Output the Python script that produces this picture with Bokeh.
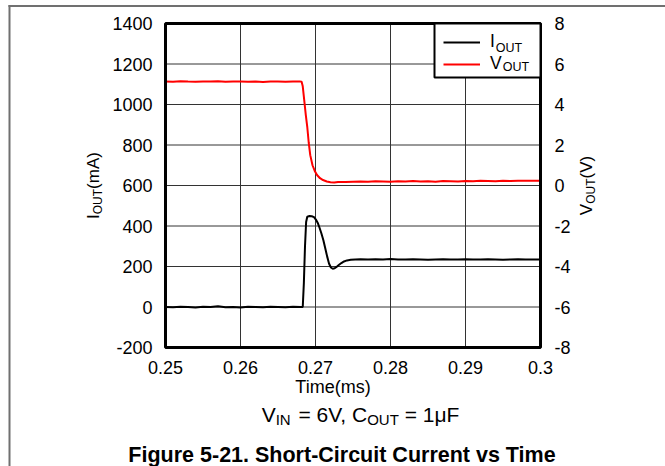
import math
from bokeh.plotting import figure
from bokeh.models import (LinearAxis, Range1d, FixedTicker, Label, BoxAnnotation,
                          Legend, LegendItem)
from bokeh.embed import file_html
from bokeh.resources import INLINE

# ---------------- data ----------------
time_i = [0.2500, 0.2510, 0.2520, 0.2530, 0.2540, 0.2550, 0.2560, 0.2570, 0.2580,
          0.2590, 0.2600, 0.2610, 0.2620, 0.2630, 0.2640, 0.2650, 0.2660, 0.2670,
          0.2680, 0.26830, 0.26845, 0.26860, 0.26875, 0.26890, 0.26920, 0.26950,
          0.26980, 0.27005, 0.27030, 0.27055, 0.27080, 0.27105, 0.27130, 0.27155,
          0.27180, 0.27205, 0.27230, 0.27255, 0.27280, 0.27310, 0.27345, 0.27380,
          0.27420, 0.27470, 0.27530, 0.2760, 0.2770, 0.2780, 0.2790, 0.2800,
          0.2810, 0.2820, 0.2830, 0.2840, 0.2850, 0.2860, 0.2870, 0.2880, 0.2890,
          0.2900, 0.2910, 0.2920, 0.2930, 0.2940, 0.2950, 0.2960, 0.2970, 0.2980,
          0.2990, 0.3000]
iout = [0, -1, 1, 0, -2, 1, 0, 4, -1,
        0, -2, 1, 0, -1, 1, 0, -1, 1,
        0, 0, 120, 300, 420, 446, 449, 448,
        444, 432, 415, 390, 362, 330, 290, 250,
        215, 195, 189, 191, 198, 207, 217, 225,
        230, 233, 235, 236, 234, 236, 235, 237,
        235, 234, 236, 235, 233, 235, 236, 234, 235,
        236, 234, 235, 236, 235, 233, 235, 236, 234,
        235, 235]

time_v = [0.2500, 0.2510, 0.2520, 0.2530, 0.2540, 0.2550, 0.2560, 0.2570, 0.2580,
          0.2590, 0.2600, 0.2610, 0.2620, 0.2630, 0.2640, 0.2650, 0.2660, 0.2670,
          0.2680, 0.26815, 0.26830, 0.26850, 0.26870, 0.26890, 0.26910, 0.26930,
          0.26960, 0.26990, 0.27020, 0.27060, 0.27100, 0.27150, 0.27200, 0.27250,
          0.2730, 0.2740, 0.2750, 0.2760, 0.2770, 0.2780, 0.2790, 0.2800, 0.2810,
          0.2820, 0.2830, 0.2840, 0.2850, 0.2860, 0.2870, 0.2880, 0.2890, 0.2900,
          0.2910, 0.2920, 0.2930, 0.2940, 0.2950, 0.2960, 0.2970, 0.2980, 0.2990,
          0.3000]
vout = [5.14, 5.12, 5.15, 5.13, 5.12, 5.14, 5.13, 5.15, 5.12,
        5.13, 5.14, 5.12, 5.13, 5.11, 5.14, 5.13, 5.12, 5.14,
        5.13, 5.12, 4.90, 4.20, 3.50, 2.90, 2.10, 1.50,
        1.00, 0.72, 0.52, 0.36, 0.27, 0.20, 0.16, 0.15,
        0.17, 0.17, 0.19, 0.20, 0.18, 0.21, 0.20, 0.19, 0.21,
        0.20, 0.22, 0.20, 0.21, 0.19, 0.22, 0.21, 0.20, 0.22,
        0.21, 0.23, 0.22, 0.21, 0.23, 0.22, 0.24, 0.23, 0.24,
        0.24]

x_ticks = [0.25, 0.26, 0.27, 0.28, 0.29, 0.30]
x_tick_labels = ["0.25", "0.26", "0.27", "0.28", "0.29", "0.3"]
i_ticks = [-200, 0, 200, 400, 600, 800, 1000, 1200, 1400]
i_tick_labels = ["-200", "0", "200", "400", "600", "800", "1000", "1200", "1400"]
v_ticks = [-8, -6, -4, -2, 0, 2, 4, 6, 8]
v_tick_labels = ["-8", "-6", "-4", "-2", "0", "2", "4", "6", "8"]

x_title = "Time(ms)"
left_title = [("I", False), ("OUT", True), ("(mA)", False)]
right_title = [("V", False), ("OUT", True), ("(V)", False)]
subtitle = [("V", False), ("IN", True), (" = 6V, C", False), ("OUT", True), (" = 1μF", False)]
caption = "Figure 5-21. Short-Circuit Current vs Time"
legend_names = [("I", "OUT"), ("V", "OUT")]

# ---------------- layout (canvas pixels) ----------------
FONT = "Liberation Sans"
W, H = 665, 466
FL, FR, FT, FB = 165, 540, 23, 347      # plot-area box on the canvas

# The frame covers the whole canvas; ranges are widened so that the
# data box lands on the plot-area pixels, and the axes are pinned to it.
x0, x1 = x_ticks[0], x_ticks[-1]
y0, y1 = i_ticks[0], i_ticks[-1]
v0, v1 = v_ticks[0], v_ticks[-1]
kx = (x1 - x0) / (FR - FL)
ky = (y1 - y0) / (FB - FT)
kv = (v1 - v0) / (FB - FT)

p = figure(width=W, height=H,
           x_range=Range1d(x0 - FL * kx, x1 + (W - FR) * kx),
           y_range=Range1d(y0 - (H - FB) * ky, y1 + FT * ky),
           output_backend="svg", toolbar_location=None,
           min_border_left=0, min_border_right=0, min_border_top=0, min_border_bottom=0)
p.extra_y_ranges = {"v": Range1d(v0 - (H - FB) * kv, v1 + FT * kv)}
p.outline_line_color = None
p.background_fill_color = "white"
p.border_fill_color = "white"
p.xgrid.visible = False
p.ygrid.visible = False

p.xaxis.ticker = FixedTicker(ticks=x_ticks)
p.xaxis.major_label_overrides = {t: s for t, s in zip(x_ticks, x_tick_labels)}
p.xaxis.fixed_location = y0
p.yaxis.ticker = FixedTicker(ticks=i_ticks)
p.yaxis.major_label_overrides = {t: s for t, s in zip(i_ticks, i_tick_labels)}
p.yaxis.fixed_location = x0
raxis = LinearAxis(y_range_name="v", ticker=FixedTicker(ticks=v_ticks), fixed_location=x1)
raxis.major_label_overrides = {t: s for t, s in zip(v_ticks, v_tick_labels)}
p.add_layout(raxis, "right")

for ax in p.axis:
    ax.axis_line_color = None
    ax.major_tick_line_color = None
    ax.minor_tick_line_color = None
    ax.major_label_text_font = FONT
    ax.major_label_text_font_size = "18px"
    ax.major_label_text_color = "black"
    ax.axis_label_text_font = FONT
    ax.axis_label_text_font_size = "18px"
    ax.axis_label_text_font_style = "normal"
    ax.axis_label_text_color = "black"
p.xaxis.major_label_standoff = 7
p.xaxis.axis_label = x_title
p.xaxis.axis_label_standoff = 0
p.yaxis.major_label_standoff = 7
raxis.major_label_standoff = 8

# grid lines from the tick lists
p.segment(x0=x_ticks, y0=[y0] * len(x_ticks), x1=x_ticks, y1=[y1] * len(x_ticks),
          line_color="#333333", line_width=1)
p.segment(x0=[x0] * len(i_ticks), y0=i_ticks, x1=[x1] * len(i_ticks), y1=i_ticks,
          line_color="#333333", line_width=1)

ri = p.line(time_i, iout, line_color="black", line_width=2)
rv = p.line(time_v, vout, line_color="#ff0000", line_width=2, y_range_name="v")

# plot-area border
p.add_layout(BoxAnnotation(left=x0, right=x1, bottom=y0, top=y1, fill_alpha=0,
                           line_color="black", line_alpha=1, line_width=3))

# ---------------- text helpers ----------------
AW = {'V': 667, 'I': 278, 'N': 722, 'O': 778, 'U': 722, 'T': 611, ' ': 278, '=': 584,
      ',': 278, 'C': 722, 'μ': 576, 'F': 611, '(': 333, ')': 333, 'm': 833, 'A': 667}


def tw(s, size):
    return sum(AW.get(c, 556) for c in s) / 1000.0 * size


def clabel(x, y, text, size, align="left", **kw):
    # (x, y): canvas pixels from the top-left; y is the middle of the text
    p.add_layout(Label(x=x, y=y, x_units="canvas", y_units="canvas", text=text,
                       text_font=FONT, text_font_size=f"{size}px", text_color="black",
                       text_align=align, text_baseline="middle", **kw))


def rich(pieces, cx, cy, size, sub_size, drop, angle=0.0):
    total = sum(tw(t, sub_size if sub else size) for t, sub in pieces)
    pos = -total / 2.0
    for i, (t, sub) in enumerate(pieces):
        fs = sub_size if sub else size
        lead = len(t) - len(t.lstrip(" "))
        start = pos + tw(" " * lead, fs)
        end = pos + tw(t, fs)
        d = drop if sub else 0
        nxt_sub = i + 1 < len(pieces) and pieces[i + 1][1] and not sub
        along, align = (end, "right") if nxt_sub else (start, "left")
        if angle == 0:
            lx, ly = cx + along, cy + d
        else:
            lx, ly = cx + d, cy - along
        clabel(lx, ly, t.strip(" "), fs, align=align, angle=angle)
        pos = end


# axis titles with subscripts (centre positions)
rich(left_title, 93, 185, 17, 12, 4, angle=math.pi / 2)
rich(right_title, 586, 185, 17, 12, 4, angle=math.pi / 2)
# subtitle and caption
rich(subtitle, 360, 414, 21, 15, 5)
clabel(341.5, 454, caption, 21.5, align="center", text_font_style="bold")

# ---------------- legend ----------------
p.add_layout(BoxAnnotation(left=434, right=FR, top=FT, bottom=77,
                           left_units="canvas", right_units="canvas",
                           top_units="canvas", bottom_units="canvas",
                           fill_color="white", fill_alpha=1,
                           line_color="black", line_alpha=1, line_width=2))
leg = Legend(items=[LegendItem(label=legend_names[0][0], renderers=[ri]),
                    LegendItem(label=legend_names[1][0], renderers=[rv])],
             location=(443, H - 34 - 36 - 4), margin=0, padding=0, spacing=1,
             glyph_width=37, glyph_height=18, label_height=18, label_width=40,
             label_standoff=10, border_line_color=None, background_fill_alpha=0,
             label_text_font=FONT, label_text_font_size="17.5px",
             label_text_line_height=1.0, label_text_color="black")
p.add_layout(leg)
for k, (main, sub) in enumerate(legend_names):
    clabel(490 + tw(main, 17.5) + 0.5, 47.5 + 18.6 * k, sub, 12.5)

# ---------------- page frame lines ----------------
p.add_layout(BoxAnnotation(left=8, right=W, top=4.5, bottom=6.5,
                           left_units="canvas", right_units="canvas",
                           top_units="canvas", bottom_units="canvas",
                           fill_color="#707070", fill_alpha=1, line_color=None))
p.add_layout(BoxAnnotation(left=8, right=10, top=4.5, bottom=H,
                           left_units="canvas", right_units="canvas",
                           top_units="canvas", bottom_units="canvas",
                           fill_color="#707070", fill_alpha=1, line_color=None))

open("out.html", "w").write(file_html(p, INLINE))
